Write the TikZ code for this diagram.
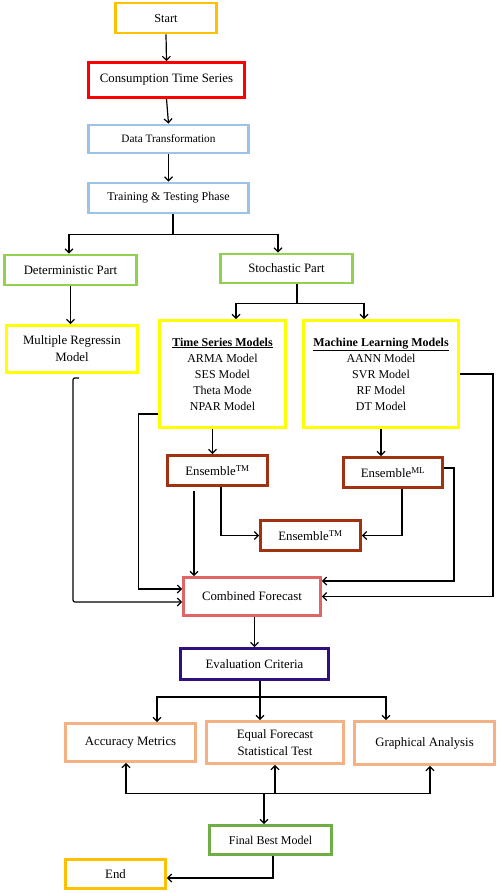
\documentclass[tikz,border=0pt]{standalone}
\usepackage{fontspec}
\setmainfont{Liberation Serif}
\usetikzlibrary{calc,arrows.meta}
\definecolor{cgold}{HTML}{FFC000}
\definecolor{cred}{HTML}{FF0000}
\definecolor{cblue}{HTML}{9DC3E6}
\definecolor{cgreen}{HTML}{92D050}
\definecolor{cgreenb}{HTML}{70AD47}
\definecolor{cyel}{HTML}{FFFF00}
\definecolor{cbrown}{HTML}{A0320F}
\definecolor{ccomb}{HTML}{E06666}
\definecolor{cpurp}{HTML}{30107A}
\definecolor{corange}{HTML}{F4B183}
\tikzset{box/.style={draw=#1, line width=2.8pt, fill=white, align=center, inner sep=2pt, font=\fontsize{12.8}{17}\selectfont},
 arr/.style={line width=1.2pt, -{Straight Barb[length=4pt,width=8pt,line width=1.2pt]}},
 ln/.style={line width=1.2pt}}

\begin{document}
\begin{tikzpicture}[x=1pt,y=-1pt]
   \useasboundingbox (0,0) rectangle (498,893);
   \node[box=cgold,minimum width=101pt,minimum height=30pt,font=\fontsize{12.3}{14}\selectfont] (start) at (166,18) {Start};
   \node[box=cred,minimum width=156pt,minimum height=35pt] (cts) at (166.5,80) {Consumption Time Series};
   \node[box=cblue,minimum width=160pt,minimum height=28pt,font=\fontsize{11.3}{14}\selectfont] (dtr) at (168.5,139) {Data Transformation};
   \node[box=cblue,minimum width=160pt,minimum height=30pt,font=\fontsize{12}{14}\selectfont] (ttp) at (168.5,198) {Training \& Testing Phase};
   \node[box=cgreen,minimum width=132pt,minimum height=30pt] (det) at (70.5,270) {Deterministic Part};
   \node[box=cgreen,minimum width=132pt,minimum height=29pt] (sto) at (286.5,268.5) {Stochastic Part};
   \node[box=cyel,minimum width=131pt,minimum height=47pt] (mrm) at (72,349) {Multiple Regressin\\Model};
   \node[box=cyel,minimum width=126pt,minimum height=107pt,font=\fontsize{12}{16}\selectfont] (tsm) at (222.5,374)
     {\underline{\textbf{Time Series Models}}\\ARMA Model\\SES Model\\Theta Mode\\NPAR Model};
   \node[box=cyel,minimum width=155pt,minimum height=107pt,font=\fontsize{12}{16}\selectfont] (mlm) at (381,374)
     {\underline{\textbf{Machine Learning Models}}\\AANN Model\\SVR Model\\RF Model\\DT Model};
   \node[box=cbrown,minimum width=100pt,minimum height=30pt] (ens1) at (217.5,470.5) {Ensemble\textsuperscript{TM}};
   \node[box=cbrown,minimum width=99pt,minimum height=30pt] (ens2) at (393,472.5) {Ensemble\textsuperscript{ML}};
   \node[box=cbrown,minimum width=100pt,minimum height=30pt] (ens3) at (310.5,535.5) {Ensemble\textsuperscript{TM}};
   \node[box=ccomb,minimum width=137pt,minimum height=38pt] (cmb) at (252,596.5) {Combined Forecast};
   \node[box=cpurp,minimum width=148pt,minimum height=31pt] (evc) at (254.5,664) {Evaluation Criteria};
   \node[box=corange,minimum width=130pt,minimum height=38pt] (acc) at (130.5,742.5) {Accuracy Metrics};
   \node[box=corange,minimum width=137pt,minimum height=42pt] (eqf) at (275,742.5) {Equal Forecast\\Statistical Test};
   \node[box=corange,minimum width=140pt,minimum height=43pt] (gra) at (424.5,743) {Graphical Analysis};
   \node[box=cgreenb,minimum width=122pt,minimum height=29pt,font=\fontsize{12}{14}\selectfont] (fbm) at (270.5,840) {Final Best Model};
   \node[box=cgold,minimum width=100pt,minimum height=29pt] (endn) at (115.5,874) {End};

   \draw[arr] (start.south) -- (cts.north);
   \draw[arr] (cts.south) -- (dtr.north);
   \draw[arr] (dtr.south) -- (ttp.north);

   \coordinate (j1) at ($(ttp.south)+(4.5,20)$);
   \draw[ln] (ttp.south -| j1) -- (j1);
   \draw[arr] (j1) -| ($(det.north)+(-1.5,0)$);
   \draw[arr] (j1) -| ($(sto.north)+(-8.5,0)$);

   \draw[arr] (det.south) -- (det.south |- mrm.north);

   \coordinate (j2) at ($(sto.south)+(10.5,19)$);
   \draw[ln] (sto.south -| j2) -- (j2);
   \draw[arr] (j2) -| ($(tsm.north)+(13.5,0)$);
   \draw[arr] (j2) -| ($(mlm.north)+(-17,0)$);

   \coordinate (p1) at ($(tsm.south)+(-10,0)$);
   \coordinate (p2) at ($(ens1.south)+(-23.5,4)$);
   \draw[arr] (p1) -- (p1 |- ens1.north);
   \draw[arr] (mlm.south) -- (mlm.south |- ens2.north);
   \draw[arr] ($(ens1.south)+(3.5,0)$) |- (ens3.west);
   \draw[arr] ($(ens2.south)+(9,0)$) |- (ens3.east);
   \draw[arr] (p2) -- (p2 |- cmb.north);

   \draw[arr] ($(tsm.west)+(0,40)$) -- ++(-20,0) |- ($(cmb.west)+(0,-7.5)$);
   \draw[arr,rounded corners=2pt] ($(mrm.south)+(7,4)$) -| ($(mrm.south)+(1,30)$) |- ($(cmb.west)+(0,5.5)$);
   \draw[arr] ($(ens2.east)+(0,-4.5)$) -- ++(10,0) |- ($(cmb.east)+(0,-15.5)$);
   \draw[arr] (mlm.east) -- ++(33,0) |- (cmb.east);

   \draw[arr] (evc.north |- cmb.south) -- (evc.north);

   \coordinate (j3) at ($(evc.south)+(5.5,16)$);
   \draw[ln] (evc.south -| j3) -- (j3);
   \draw[arr] (j3) -| ($(acc.north)+(26.5,0)$);
   \draw[arr] (j3) -- (j3 |- eqf.north);
   \draw[arr] (j3) -| ($(gra.north)+(-38.5,0)$);

   \coordinate (j4) at ($(fbm.north)+(-6.5,-31)$);
   \draw[arr] (j4) -| ($(acc.south)+(-4.5,0)$);
   \draw[arr] (j4) -| (eqf.south);
   \draw[arr] (j4) -| ($(gra.south)+(5.5,0)$);
   \draw[arr] (j4) -- (j4 |- fbm.north);

   \draw[arr] ($(fbm.south)+(2.5,0)$) |- ($(endn.east)+(0,4)$);
\end{tikzpicture}
\end{document}
